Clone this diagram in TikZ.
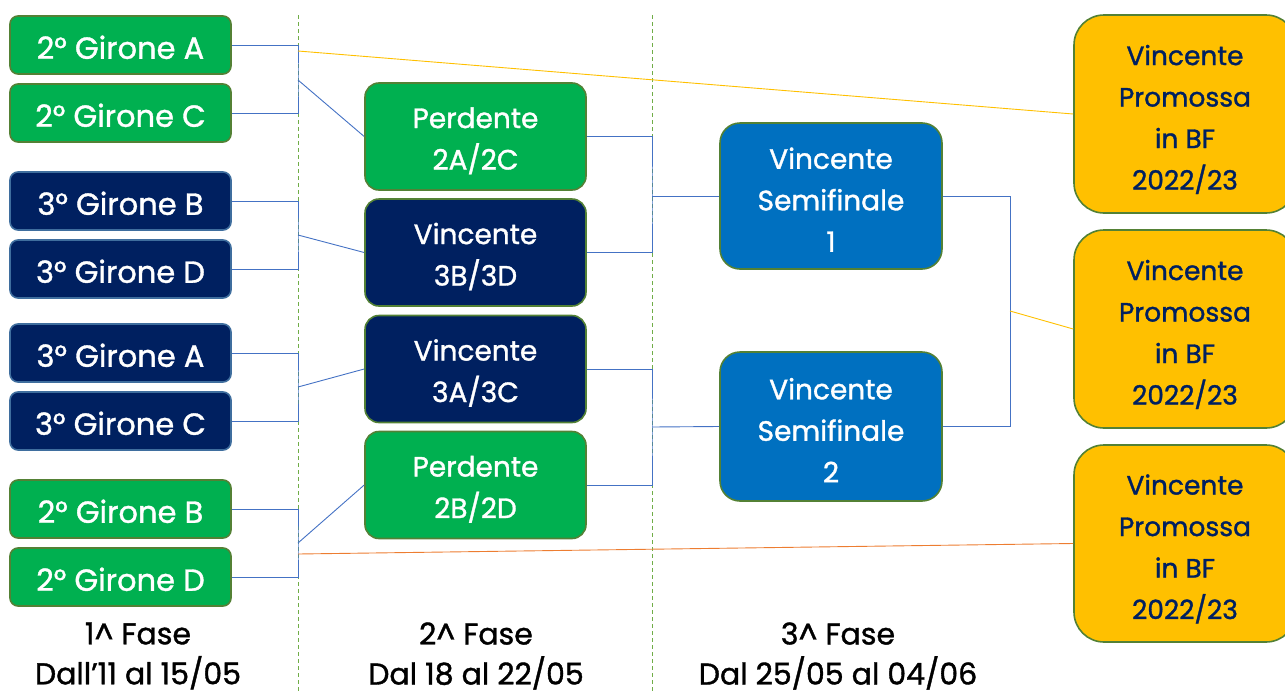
\documentclass[tikz,border=0pt]{standalone}
\usepackage{fontspec}
\setmainfont{Poppins}[FakeBold=1.2]
\definecolor{gfill}{HTML}{00B050}
\definecolor{gdraw}{HTML}{538135}
\definecolor{nfill}{HTML}{002060}
\definecolor{ndraw}{HTML}{3F6E9E}
\definecolor{bfill}{HTML}{0070C0}
\definecolor{yfill}{HTML}{FFC000}
\definecolor{conncol}{HTML}{4472C4}
\definecolor{orangecol}{HTML}{ED7D31}
\definecolor{dashcol}{HTML}{70AD47}
% multi-line text block, drawn #1 lower than its box is reckoned to be
\newcommand\mlines[2]{\raisebox{-#1}[\height][\depth]{\begin{tabular}{@{}c@{}}#2\end{tabular}}}
\newcommand\shiftS{5.5pt}
\newcommand\shiftM{4pt}
\newcommand\shiftSF{6pt}
\newcommand\shiftF{5pt}
\tikzset{
  box/.style={rectangle, line width=1.6pt, text=white, inner sep=0pt,
    font=\fontsize{28}{41.5}\selectfont},
  greenbox/.style={box, fill=gfill, draw=gdraw},
  navybox/.style={box, fill=nfill, draw=ndraw},
  navymid/.style={box, fill=nfill, draw=gdraw},
  semibox/.style={box, fill=bfill, draw=gdraw, minimum width=222pt, rounded corners=20pt},
  finalbox/.style={box, fill=yfill, draw=gdraw, text=nfill, font=\fontsize{26.5}{41.5}\selectfont,
    minimum width=222pt, rounded corners=30pt},
  small/.style={minimum width=221pt, minimum height=58pt, rounded corners=8pt, font=\fontsize{30.5}{41.5}\selectfont},
  mid/.style={minimum width=221pt, minimum height=107pt, rounded corners=14pt},
  conn/.style={draw=conncol, line width=0.9pt},
  sep/.style={draw=dashcol, line width=0.9pt, dash pattern=on 4pt off 3pt},
  lab/.style={text=black, align=center, font=\fontsize{30}{40}\selectfont}
}
\begin{document}
\begin{tikzpicture}[x=1pt,y=-1pt]
\useasboundingbox (0,0) rectangle (1285,691);
% separators
\coordinate (d1t) at (298,15); \coordinate (d1b) at (298,691);
\coordinate (d2t) at (652,15); \coordinate (d2b) at (652,691);
\draw[sep] (d1t) -- (d1b);
\draw[sep] (d2t) -- (d2b);
% first column
\node[greenbox, small] (gA) at (120.5,45) {\mlines{\shiftS}{2° Girone A}};
\node[greenbox, small] (gC) at (120.5,113) {\mlines{\shiftS}{2° Girone C}};
\node[navybox, small] (tB) at (120.5,201) {\mlines{\shiftS}{3° Girone B}};
\node[navybox, small] (tD) at (120.5,269) {\mlines{\shiftS}{3° Girone D}};
\node[navybox, small] (tA) at (120.5,353) {\mlines{\shiftS}{3° Girone A}};
\node[navybox, small] (tC) at (120.5,421) {\mlines{\shiftS}{3° Girone C}};
\node[greenbox, small] (gB) at (120.5,509) {\mlines{\shiftS}{2° Girone B}};
\node[greenbox, small] (gD) at (120.5,577) {\mlines{\shiftS}{2° Girone D}};
% second column
\node[greenbox, mid] (p1) at (475.5,136.5) {\mlines{\shiftM}{Perdente\\2A/2C}};
\node[navymid, mid] (v1) at (475.5,252.5) {\mlines{\shiftM}{Vincente\\3B/3D}};
\node[navymid, mid] (v2) at (475.5,369) {\mlines{\shiftM}{Vincente\\3A/3C}};
\node[greenbox, mid] (p2) at (475.5,485) {\mlines{\shiftM}{Perdente\\2B/2D}};
% semifinals
\node[semibox, minimum height=146pt] (s1) at (831,196) {\mlines{\shiftSF}{Vincente\\Semifinale\\1}};
\node[semibox, minimum height=149pt] (s2) at (831,426.5) {\mlines{\shiftSF}{Vincente\\Semifinale\\2}};
% finals
\node[finalbox, minimum height=198pt] (f1) at (1185,114) {\mlines{\shiftF}{Vincente\\Promossa\\in BF\\2022/23}};
\node[finalbox, minimum height=198pt] (f2) at (1185,329) {\mlines{\shiftF}{Vincente\\Promossa\\in BF\\2022/23}};
\node[finalbox, minimum height=197pt] (f3) at (1185,543.5) {\mlines{\shiftF}{Vincente\\Promossa\\in BF\\2022/23}};
% junctions
\coordinate (jAC) at (298,80);
\coordinate (jBD3) at (298,235);
\coordinate (jAC3) at (298,387);
\coordinate (jBD2) at (298,543);
\coordinate (jS1) at (652,196);
\coordinate (jS2) at (652,427);
\coordinate (jF) at (1010,311);
\coordinate (jY) at (298,51);
\coordinate (jO) at (298,554);
% connectors
\draw[conn] (gA.east) -| (jAC) |- (gC.east);
\draw[conn] (jAC) -- (p1.west);
\draw[conn] (tB.east) -| (jBD3) |- (tD.east);
\draw[conn] (jBD3) -- (v1.west);
\draw[conn] (tA.east) -| (jAC3) |- (tC.east);
\draw[conn] (jAC3) -- (v2.west);
\draw[conn] (gB.east) -| (jBD2) |- (gD.east);
\draw[conn] (jBD2) -- (p2.west);
\draw[conn] (p1.east) -| (jS1) |- (v1.east);
\draw[conn] (jS1) -- (s1.west);
\draw[conn] (v2.east) -| (jS2) |- (p2.east);
\draw[conn] (jS2) -- (s2.west);
\draw[conn] (s1.east) -| (jF) |- (s2.east);
\draw[draw=yfill, line width=0.9pt] (jF) -- (f2.west);
\draw[draw=yfill, line width=0.9pt] (jY) -- (f1.west);
\draw[draw=orangecol, line width=0.9pt] (jO) -- (f3.west);
% phase labels
\node[lab] (l1) at (138,656) {1\textasciicircum{} Fase\\Dall’11 al 15/05};
\node[lab] (l2) at (476,656) {2\textasciicircum{} Fase\\Dal 18 al 22/05};
\node[lab] (l3) at (838,656) {3\textasciicircum{} Fase\\Dal 25/05 al 04/06};
\end{tikzpicture}
\end{document}
